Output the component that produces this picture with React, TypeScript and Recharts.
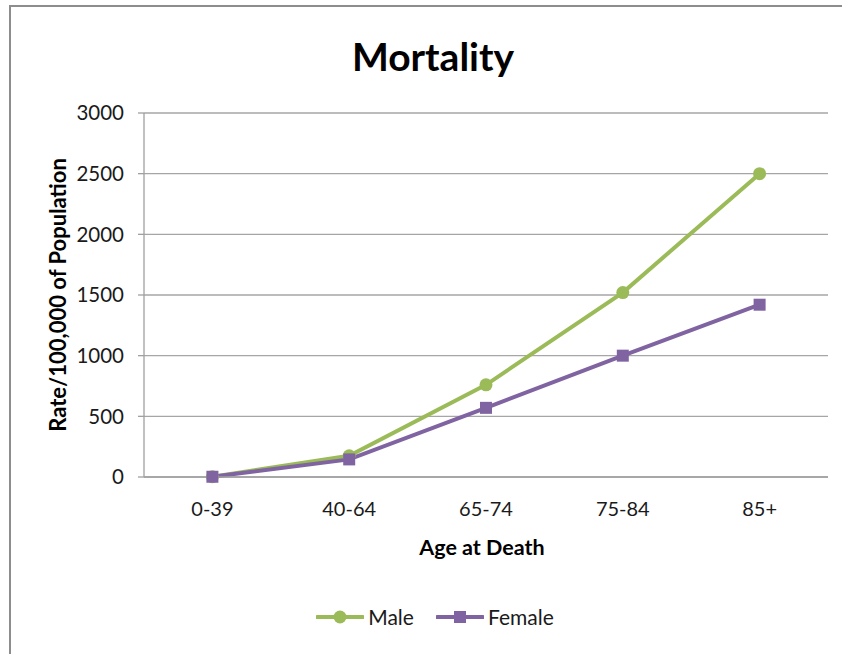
import React from 'react';
import { LineChart, Line, XAxis, YAxis, CartesianGrid } from 'recharts';

const categories = ['0-39', '40-64', '65-74', '75-84', '85+'];
const maleValues = [2, 175, 760, 1520, 2500];
const femaleValues = [2, 145, 570, 1000, 1420];
const yTicks = [0, 500, 1000, 1500, 2000, 2500, 3000];
const seriesNames = ['Male', 'Female'];

const MALE_COLOR = '#9BBB59';
const FEMALE_COLOR = '#8064A2';
const FONT = 'Lato, "Open Sans", sans-serif';

const data = categories.map((c, i) => ({ cat: c, Male: maleValues[i], Female: femaleValues[i] }));

const SquareDot = (props: any) => {
  const { cx, cy, key } = props;
  if (cx == null || cy == null) return null;
  return <rect key={key} x={cx - 6} y={cy - 6} width={12} height={12} fill={FEMALE_COLOR} />;
};

const CircleDot = (props: any) => {
  const { cx, cy, key } = props;
  if (cx == null || cy == null) return null;
  return <circle key={key} cx={cx} cy={cy} r={6.5} fill={MALE_COLOR} />;
};

const LegendContent = () => (
  <div style={{ display: 'flex', justifyContent: 'center', alignItems: 'center', fontFamily: FONT, fontSize: 21, color: '#1a1a1a', paddingLeft: 28 }}>
    <div style={{ display: 'flex', alignItems: 'center', marginRight: 22 }}>
      <svg width={48} height={16}>
        <line x1={1} y1={8} x2={47} y2={8} stroke={MALE_COLOR} strokeWidth={4} strokeLinecap="round" />
        <circle cx={24} cy={8} r={6.5} fill={MALE_COLOR} />
      </svg>
      <span style={{ marginLeft: 4 }}>{seriesNames[0]}</span>
    </div>
    <div style={{ display: 'flex', alignItems: 'center' }}>
      <svg width={48} height={16}>
        <line x1={1} y1={8} x2={47} y2={8} stroke={FEMALE_COLOR} strokeWidth={4} strokeLinecap="round" />
        <rect x={18} y={2} width={12} height={12} fill={FEMALE_COLOR} />
      </svg>
      <span style={{ marginLeft: 4 }}>{seriesNames[1]}</span>
    </div>
  </div>
);

export default function App() {
  return (
    <div style={{ position: 'absolute', left: 0, top: 0, width: 842, height: 654, background: '#fff', overflow: 'hidden' }}>
      <div style={{ position: 'absolute', left: 9, top: 5, width: 900, height: 700, borderTop: '2px solid #8d8d8d', borderLeft: '2px solid #8d8d8d' }} />
      <div style={{ position: 'absolute', left: 0, top: 32, width: 866, textAlign: 'center', fontFamily: FONT, fontWeight: 'bold', fontSize: 39, color: '#000', lineHeight: '48px' }}>
        Mortality
      </div>
      <div style={{ position: 'absolute', left: 0, top: 0 }}>
        <LineChart width={842} height={654} data={data} margin={{ top: 113, right: 14, bottom: 97, left: 58 }}>
          <CartesianGrid vertical={false} stroke="#a6a6a6" strokeWidth={1.3} />
          <XAxis
            dataKey="cat"
            scale="band"
            interval={0}
            axisLine={{ stroke: '#a0a0a0', strokeWidth: 1.3 }}
            tickLine={false}
            tickSize={0}
            tickMargin={25}
            height={80}
            tick={{ fontFamily: FONT, fontSize: 20, fill: '#1a1a1a' }}
            label={{
              content: (p: any) => {
                const vb = p.viewBox || { x: 144, y: 477, width: 684, height: 80 };
                return (
                  <text x={vb.x + vb.width / 2 - 4} y={555} textAnchor="middle" fontFamily={FONT} fontWeight="bold" fontSize={21.5} fill="#000">
                    Age at Death
                  </text>
                );
              },
            }}
          />
          <YAxis
            domain={[0, 3000]}
            ticks={yTicks}
            interval={0}
            width={86}
            axisLine={{ stroke: '#a0a0a0', strokeWidth: 1.3 }}
            tickLine={{ stroke: '#a0a0a0', strokeWidth: 1.3 }}
            tickSize={6}
            tickMargin={14}
            tick={{ fontFamily: FONT, fontSize: 20.5, fill: '#1a1a1a' }}
            label={{
              content: () => (
                <text x={57} y={295} transform="rotate(-90 57 295)" textAnchor="middle" dominantBaseline="central" fontFamily={FONT} fontWeight="bold" fontSize={22} fill="#000">
                  Rate/100,000 of Population
                </text>
              ),
            }}
          />
          <Line type="linear" dataKey="Male" name={seriesNames[0]} stroke={MALE_COLOR} strokeWidth={4} dot={<CircleDot />} activeDot={false} isAnimationActive={false} />
          <Line type="linear" dataKey="Female" name={seriesNames[1]} stroke={FEMALE_COLOR} strokeWidth={4} dot={<SquareDot />} activeDot={false} isAnimationActive={false} />
        </LineChart>
      </div>
      <div style={{ position: 'absolute', left: 0, top: 604, width: 842, height: 30 }}>
        <LegendContent />
      </div>
    </div>
  );
}
